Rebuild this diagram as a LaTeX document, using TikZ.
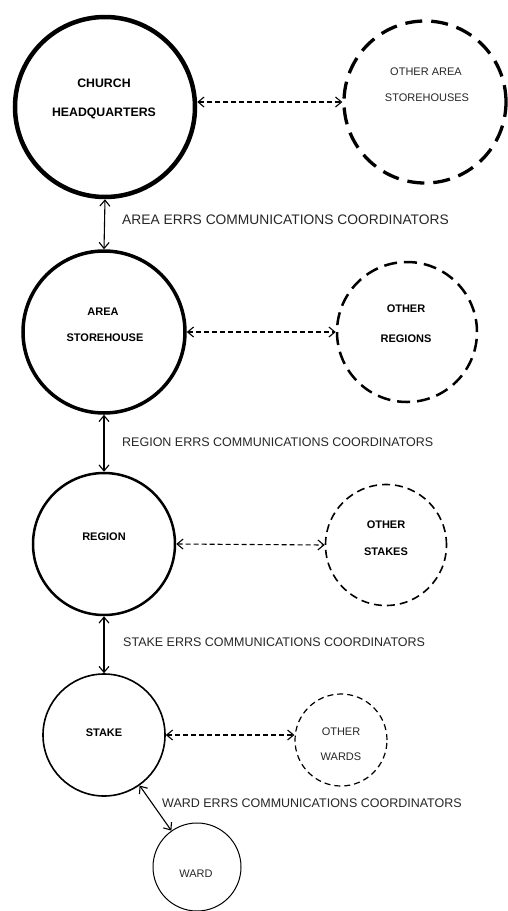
\documentclass[tikz,border=0pt]{standalone}
\usepackage{fontspec}
\setmainfont{Liberation Sans}
\usetikzlibrary{arrows.meta}
\begin{document}
\begin{tikzpicture}[x=1pt,y=1pt,
  circ/.style={circle, draw, inner sep=0pt, minimum size=#1},
  txt/.style={inner sep=0pt, text=black!85, font=\fontsize{11}{12}\selectfont},
  btxt/.style={inner sep=0pt, text=black, font=\fontsize{11}{12}\selectfont\bfseries},
  lbl/.style={inner sep=0pt, anchor=west, text=black!85, font=\fontsize{12.5}{14}\selectfont},
  link/.style={line width=1.1pt, {Straight Barb[length=6pt,width=10pt]}-{Straight Barb[length=6pt,width=10pt]}},
  dlink/.style={link, dash pattern=on 5pt off 3pt}
]
\useasboundingbox (0,0) rectangle (508,-911);
% main circles
\node[circ=180, line width=4.5pt] (hq) at (105,-107) {};
\node[circ=162, line width=3.5pt] (area) at (104,-332) {};
\node[circ=142, line width=2.5pt] (region) at (104,-544) {};
\node[circ=122, line width=1.6pt] (stake) at (104,-735) {};
\node[circ=88, line width=1pt] (ward) at (197,-867) {};
% other circles
\node[circ=162, line width=3.3pt, dash pattern=on 17pt off 9pt] (oarea) at (425,-102) {};
\node[circ=140, line width=2.5pt, dash pattern=on 13pt off 7pt] (oreg) at (407,-332) {};
\node[circ=121, line width=1.6pt, dash pattern=on 8pt off 5pt] (ostake) at (386,-545) {};
\node[circ=92, line width=1.2pt, dash pattern=on 6pt off 4pt] (oward) at (341,-740) {};
% texts
\node[btxt, font=\fontsize{12.3}{14}\selectfont\bfseries] (t1) at (104,-83) {CHURCH};
\node[btxt, font=\fontsize{12.3}{14}\selectfont\bfseries] (t2) at (104,-113) {HEADQUARTERS};
\node[txt] (t3) at (426,-72) {OTHER AREA};
\node[txt] (t4) at (427,-98) {STOREHOUSES};
\node[btxt] (t5) at (103,-312) {AREA};
\node[btxt] (t6) at (105,-338) {STOREHOUSE};
\node[btxt] (t7) at (406,-309) {OTHER};
\node[btxt] (t8) at (406,-339) {REGIONS};
\node[btxt] (t9) at (104,-537) {REGION};
\node[btxt] (t10) at (386,-525) {OTHER};
\node[btxt] (t11) at (386,-552) {STAKES};
\node[btxt] (t12) at (104,-733) {STAKE};
\node[txt] (t13) at (341,-732) {OTHER};
\node[txt] (t14) at (341,-757) {WARDS};
\node[txt] (t15) at (196,-874) {WARD};
% labels
\node[lbl, font=\fontsize{13.8}{15}\selectfont] (l1) at (122,-220) {AREA ERRS COMMUNICATIONS COORDINATORS};
\node[lbl] (l2) at (122,-442) {REGION ERRS COMMUNICATIONS COORDINATORS};
\node[lbl] (l3) at (123,-642) {STAKE ERRS COMMUNICATIONS COORDINATORS};
\node[lbl] (l4) at (162,-803) {WARD ERRS COMMUNICATIONS COORDINATORS};
% connectors
\draw[link] (hq.south) -- (area.north);
\draw[link] (area.south) -- (region.north);
\draw[link] (region.south) -- (stake.north);
\draw[link] (stake) -- (ward);
\draw[dlink] (hq.east |- oarea.west) -- (oarea.west);
\draw[dlink] (area.east) -- (oreg.west);
\draw[dlink] (region.east) -- (ostake.west);
\draw[dlink] (stake.east) -- (oward.west |- stake.east);
\end{tikzpicture}
\end{document}
